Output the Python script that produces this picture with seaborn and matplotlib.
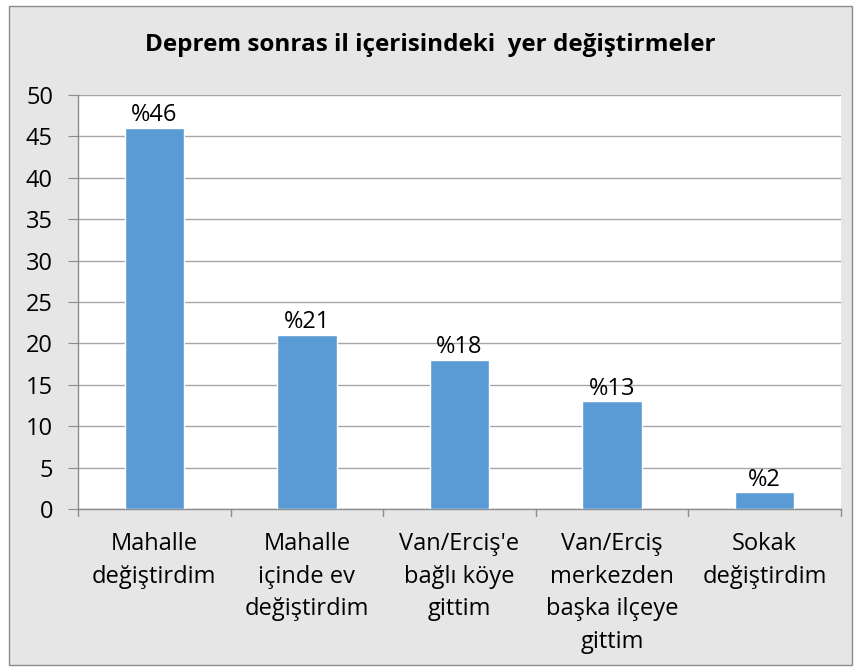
import matplotlib
matplotlib.use("Agg")
import matplotlib.pyplot as plt
from matplotlib.patches import Rectangle
import seaborn as sns
import pandas as pd

categories = ["Mahalle\ndeğiştirdim", "Mahalle\niçinde ev\ndeğiştirdim",
              "Van/Erciş'e\nbağlı köye\ngittim", "Van/Erciş\nmerkezden\nbaşka ilçeye\ngittim",
              "Sokak\ndeğiştirdim"]
values = [46, 21, 18, 13, 2]
labels = ["%46", "%21", "%18", "%13", "%2"]
title = "Deprem sonras il içerisindeki  yer değiştirmeler"

sns.set_style("white")
plt.rcParams['font.family'] = ['Open Sans', 'DejaVu Sans']
plt.rcParams['text.color'] = 'black'
plt.rcParams['xtick.color'] = 'black'
plt.rcParams['ytick.color'] = 'black'

df = pd.DataFrame({"cat": categories, "val": values})

fig = plt.figure(figsize=(8.6, 6.71), dpi=100)
fig.patch.set_facecolor("white")
# outer chart area
fig.patches.append(Rectangle((9 / 860, 1 - 665 / 671), 843 / 860, 659 / 671,
                             transform=fig.transFigure, facecolor="#E6E6E6",
                             edgecolor="#8C8C8C", linewidth=1, zorder=-10))

ax = fig.add_axes([78 / 860, 1 - 509 / 671, 763 / 860, 414 / 671])
ax.set_zorder(1)
sns.barplot(data=df, x="cat", y="val", color="#5B9BD5", width=0.39,
            saturation=1, ax=ax, zorder=3)

ax.set_facecolor("white")
ax.set_ylim(0, 50)
ax.set_xlim(-0.5, 4.5)
ax.set_yticks(range(0, 51, 5))
ax.grid(axis="y", color="#A6A6A6", linewidth=1, zorder=0)
ax.set_axisbelow(True)
ax.set_xlabel("")
ax.set_ylabel("")

for s in ["top", "right"]:
    ax.spines[s].set_visible(False)
for s in ["left", "bottom"]:
    ax.spines[s].set_color("#8C8C8C")
    ax.spines[s].set_linewidth(1)

ax.tick_params(axis="y", left=True, length=7, color="#8C8C8C", labelsize=17, pad=11)
ax.tick_params(axis="x", bottom=False, labelsize=17, pad=13)
for lab in ax.get_xticklabels():
    lab.set_linespacing(1.48)
    lab.set_verticalalignment("top")

# category boundary ticks
for b in [-0.5, 0.5, 1.5, 2.5, 3.5, 4.5]:
    ax.plot([b, b], [0, -0.018], transform=ax.get_xaxis_transform(),
            color="#8C8C8C", linewidth=1, clip_on=False)

for i, (v, t) in enumerate(zip(values, labels)):
    ax.text(i, v + 0.1, t, ha="center", va="bottom", fontsize=17)

fig.text(0.5, 1 - 45 / 671, title, ha="center", va="center",
         fontsize=17.5, fontweight="bold")

fig.savefig("out.png", dpi=100)
